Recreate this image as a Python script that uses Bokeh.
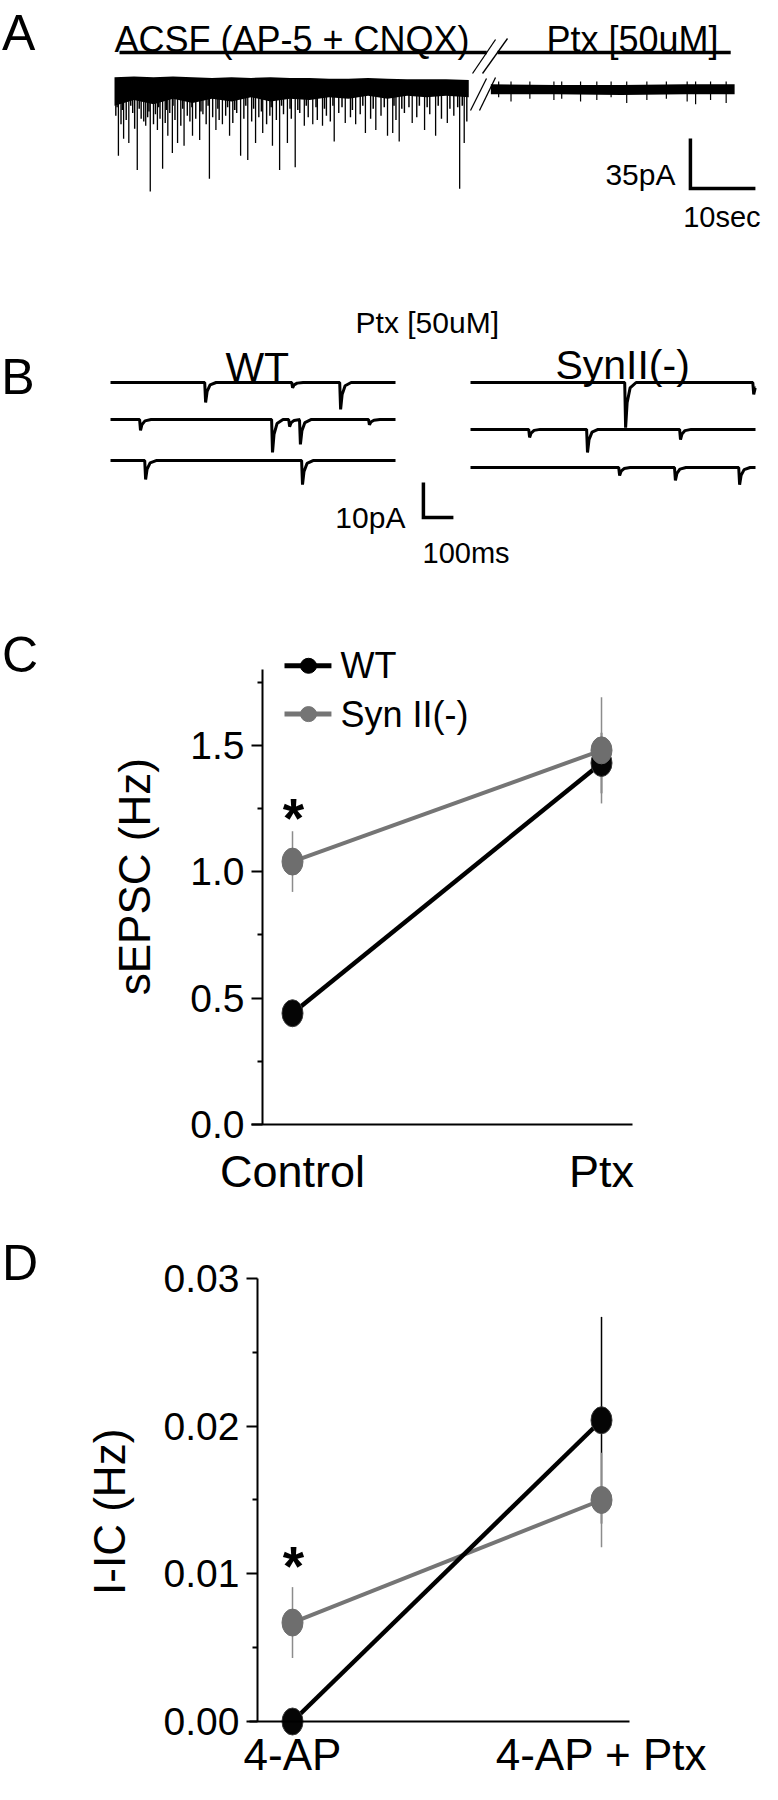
import math
from bokeh.plotting import figure
from bokeh.layouts import column
from bokeh.models import Label, FixedTicker, PrintfTickFormatter
from bokeh.embed import file_html
from bokeh.resources import INLINE

FONT = "Liberation Sans"

# ---------------- Panel A data (seconds, pA) ----------------
acsf_band_t = [0, 3, 6, 9, 12, 15, 18, 21, 24, 27, 30, 33, 36, 39, 42, 45, 48, 51, 54.5]
acsf_band_top = [3, 3.5, 3, 3.5, 3, 2.5, 3, 2.5, 3, 2.5, 2.5, 2, 2, 2.5, 2, 1.5, 1.5, 1.5, 1]
acsf_band_bot = [-17, -13, -16, -12, -15, -12, -14, -11, -14, -12, -13, -11, -12, -10,
                 -12, -10, -11, -10, -11]
acsf_big_t = [0.6, 1.4, 2.2, 3.5, 4.8, 5.5, 6.6, 7.4, 8.2, 8.9, 9.7, 10.7, 12.0, 13.1, 14.6,
              15.6, 16.6, 17.7, 19.4, 20.5, 21.7, 22.8, 24.3, 25.4, 26.6, 27.8, 29.2, 30.5,
              32.0, 33.8, 35.5, 37.1, 38.6, 40.2, 42.0, 42.8, 43.8, 45.8, 47.7, 49.4, 51.2,
              53.1, 53.8]
acsf_big_amp = [52, 40, 43, 62, 31, 77, 34, 61, 38, 50, 43, 45, 38, 41, 68, 34, 30, 38, 52,
                55, 43, 36, 45, 62, 43, 60, 31, 30, 31, 42, 29, 30, 36, 34, 38, 36, 42, 29,
                34, 38, 29, 75, 43]
acsf_med_t = [0.2, 1.0, 1.8, 2.8, 3.1, 4.1, 4.5, 5.1, 6.0, 6.3, 7.0, 7.8, 8.5, 9.3, 10.2,
              11.2, 11.6, 12.5, 13.6, 14.1, 15.1, 16.1, 17.1, 18.2, 18.8, 19.9, 21.1, 22.2,
              23.4, 23.9, 24.9, 26.0, 27.2, 28.5, 29.8, 31.2, 32.6, 33.2, 34.5, 36.3, 37.8,
              39.4, 41.0, 43.3, 44.6, 46.5, 48.5, 50.3, 52.2, 54.2]
acsf_med_amp = [24, 30, 27, 22, 33, 26, 28, 25, 30, 23, 26, 29, 22, 27, 31, 24, 28, 26, 23,
                30, 25, 27, 24, 29, 22, 26, 28, 25, 30, 24, 27, 23, 26, 22, 25, 27, 24, 28,
                22, 25, 23, 26, 24, 27, 22, 25, 23, 26, 24, 28]
acsf_small_t = [0.4, 1.2, 2.5, 3.8, 5.3, 6.8, 8.0, 9.0, 10.5, 11.9, 13.3, 14.4, 15.9, 17.4,
                18.5, 20.2, 21.4, 22.6, 24.1, 25.7, 27.0, 28.2, 29.5, 31.0, 32.3, 33.6,
                35.0, 36.6, 38.2, 39.8, 41.5, 43.0, 44.2, 45.3, 46.9, 48.1, 49.8, 51.6,
                52.8, 53.5]
acsf_small_amp = [18, 20, 17, 19, 21, 18, 20, 17, 19, 18, 21, 17, 19, 18, 20, 17, 19, 21,
                  18, 17, 19, 20, 17, 18, 19, 17, 18, 20, 17, 19, 18, 17, 19, 18, 17, 18,
                  17, 19, 18, 17]
ptx_band_t = [0, 10, 20, 30, 37.5]
ptx_band_top = [-2, -2.5, -2.5, -2, -2]
ptx_band_bot = [-9, -9, -9.5, -9, -9]
ptx_spk_t = [1.2, 3.1, 6.0, 9.7, 10.9, 13.8, 16.3, 18.5, 20.9, 24.0, 27.0, 30.2, 31.5, 33.8, 36.2]
ptx_spk_amp = [11, 14, 12, 13, 12, 14, 13, 11, 15, 13, 12, 14, 16, 13, 15]
bar_acsf = [0.77, 57.27]
bar_ptx = [58.92, 94.8]
scale_a_sec = 10
scale_a_pA = 35

# ---------------- Panel B data (ms, pA) ----------------
trace_dur = 950
wt_events_t = [[317, 607, 767], [100, 540, 597, 633, 863], [117, 640]]
wt_events_amp = [[5.7, 1.5, 7.7], [3.1, 9.4, 2.0, 7.1, 1.5], [5.4, 6.9]]
syn_events_t = [[517, 944], [197, 390, 700], [497, 683, 897]]
syn_events_amp = [[12.9, 3.4], [2.3, 6.6, 2.9], [2.3, 3.7, 4.9]]
scale_b_ms = 100
scale_b_pA = 10

# ---------------- Panel C / D data ----------------
cond_c = ["Control", "Ptx"]
wt_sepsc = [0.44, 1.43]
wt_sepsc_err = [0.03, 0.12]
syn_sepsc = [1.04, 1.48]
syn_sepsc_err = [0.12, 0.21]

cond_d = ["4-AP", "4-AP + Ptx"]
wt_iic = [0.0, 0.0204]
wt_iic_err = [0.0, 0.0070]
syn_iic = [0.0067, 0.0150]
syn_iic_err = [0.0024, 0.0032]

BLACK = "#000000"
GRAY = "#757575"
GRAY_ERR = "#8c8c8c"


def base_fig(h, xr, yr, axes=False):
    kw = dict(width=762, height=h, x_range=xr, y_range=yr, output_backend="svg",
              toolbar_location=None, min_border=0)
    if not axes:
        kw.update(x_axis_type=None, y_axis_type=None)
    p = figure(**kw)
    p.outline_line_color = None
    p.grid.visible = False
    p.background_fill_color = "white"
    p.border_fill_color = "white"
    return p


def label(p, x, y, text, size, align="left", baseline="alphabetic", style="normal",
          color=BLACK, angle=0.0):
    p.add_layout(Label(x=x, y=y, text=text, text_font=FONT, text_font_size=f"{size}px",
                       text_align=align, text_baseline=baseline, text_font_style=style,
                       text_color=color, angle=angle))


# ================= Panel A =================
pa = base_fig(250, (-17.54, 99.69), (-118.3, 56.7))
pa.varea(x=acsf_band_t, y1=acsf_band_top, y2=acsf_band_bot, fill_color=BLACK)
for ts, am, lw in ((acsf_small_t, acsf_small_amp, 1.5), (acsf_med_t, acsf_med_amp, 1.4),
                   (acsf_big_t, acsf_big_amp, 1.3)):
    pa.segment(x0=ts, y0=[-8] * len(ts), x1=ts, y1=[-a for a in am],
               line_color=BLACK, line_width=lw)
PTX0 = 57.9
pt = [PTX0 + t for t in ptx_band_t]
pa.varea(x=pt, y1=ptx_band_top, y2=ptx_band_bot, fill_color=BLACK)
pst = [PTX0 + t for t in ptx_spk_t]
pa.segment(x0=pst, y0=[0] * len(pst), x1=pst, y1=[-a for a in ptx_spk_amp],
           line_color=BLACK, line_width=1.2)
# condition bars
pa.line(x=bar_acsf, y=[20.3, 20.3], line_color=BLACK, line_width=3.5)
pa.line(x=bar_ptx, y=[20.3, 20.3], line_color=BLACK, line_width=3.5)
# break marks
pa.segment(x0=[55.08, 56.62, 54.77, 56.15], y0=[5.6, 5.6, -20.3, -20.3],
           x1=[58.62, 60.46, 57.23, 58.62], y1=[29.4, 30.1, 2.1, 2.8],
           line_color=BLACK, line_width=1.3)
# scale bar
sx, sy = 88.6, -74.9
pa.line(x=[sx, sx, sx + scale_a_sec], y=[sy + scale_a_pA, sy, sy], line_color=BLACK,
        line_width=3.5, line_join="miter")
label(pa, 0, 29.4, "ACSF (AP-5 + CNQX)", 36)
label(pa, 66.46, 29.4, "Ptx [50uM]", 36)
label(pa, 86.3, -65.1, f"{scale_a_pA}pA", 30, align="right")
label(pa, 99.4, -94.5, f"{scale_a_sec}sec", 29, align="right")
label(pa, -17.3, 34.0, "A", 50)


# ================= Panel B =================
def trace_xy(ev_t, ev_a, dur):
    xs, ys = [0], [0]
    for t, a in zip(ev_t, ev_a):
        for dx, f in ((-3, 0), (0, 1), (5, 0.45), (15, 0.12), (35, 0)):
            if t + dx < dur:
                xs.append(t + dx)
                ys.append(-a * f)
    xs.append(dur)
    ys.append(ys[-1])
    return xs, ys


pb = base_fig(340, (-366.7, 2173.3), (-59.43, 37.71))
wt_off = [0, -10.6, -22.3]
syn_off = [0, -13.4, -24.3]
SYN_X0 = 1200
for i in range(3):
    xs, ys = trace_xy(wt_events_t[i], wt_events_amp[i], trace_dur)
    pb.line(x=xs, y=[v + wt_off[i] for v in ys], line_color=BLACK, line_width=3)
    xs, ys = trace_xy(syn_events_t[i], syn_events_amp[i], trace_dur)
    pb.line(x=[SYN_X0 + v for v in xs], y=[v + syn_off[i] for v in ys], line_color=BLACK,
            line_width=3)
bx, by = 1043, -38.6
pb.line(x=[bx, bx, bx + scale_b_ms], y=[by + scale_b_pA, by, by], line_color=BLACK,
        line_width=3.5, line_join="miter")
label(pb, 817, 17.1, "Ptx [50uM]", 30)
label(pb, 383, 4.3, "WT", 41)
label(pb, 1483, 4.9, "SynII(-)", 41)
label(pb, 983, -38.6, f"{scale_b_pA}pA", 30, align="right")
label(pb, 1040, -48.6, f"{scale_b_ms}ms", 29)
label(pb, -364, 1.43, "B", 50)


# ================= Panels C and D =================
def style_axes(p, yloc, ybounds, yticks, yminor, yfmt, xbounds, xlabels, xstand, xsize):
    ya = p.yaxis[0]
    ya.fixed_location = yloc
    ya.bounds = ybounds
    ya.ticker = FixedTicker(ticks=yticks, minor_ticks=yminor)
    ya.formatter = PrintfTickFormatter(format=yfmt)
    ya.major_tick_out = 11
    ya.major_tick_in = 0
    ya.minor_tick_out = 5
    ya.minor_tick_in = 0
    ya.axis_line_width = 2
    ya.major_tick_line_width = 2
    ya.minor_tick_line_width = 2
    ya.major_label_text_font = FONT
    ya.major_label_text_font_size = "39px"
    ya.major_label_text_color = BLACK
    ya.major_label_standoff = 7
    xa = p.xaxis[0]
    xa.fixed_location = 0
    xa.bounds = xbounds
    xa.ticker = FixedTicker(ticks=[0, 1], minor_ticks=[])
    xa.major_label_overrides = {0: xlabels[0], 1: xlabels[1]}
    xa.major_tick_out = 0
    xa.major_tick_in = 0
    xa.minor_tick_out = 0
    xa.minor_tick_in = 0
    xa.axis_line_width = 2
    xa.major_label_text_font = FONT
    xa.major_label_text_font_size = f"{xsize}px"
    xa.major_label_text_color = BLACK
    xa.major_label_standoff = xstand


def draw_series(p, wt, wt_err, syn, syn_err):
    xs = list(range(len(wt)))
    p.segment(x0=xs, y0=[m - e for m, e in zip(wt, wt_err)], x1=xs,
              y1=[m + e for m, e in zip(wt, wt_err)], line_color=BLACK, line_width=1.5)
    p.segment(x0=xs, y0=[m - e for m, e in zip(syn, syn_err)], x1=xs,
              y1=[m + e for m, e in zip(syn, syn_err)], line_color=GRAY_ERR, line_width=1.5)
    p.line(x=xs, y=syn, line_color=GRAY, line_width=4)
    p.line(x=xs, y=wt, line_color=BLACK, line_width=4.5)
    p.ellipse(x=xs, y=wt, width=21, height=27, width_units="screen", height_units="screen",
              fill_color="#050505", line_color="#3a3a3a", line_width=1)
    p.ellipse(x=xs, y=syn, width=21, height=27, width_units="screen", height_units="screen",
              fill_color="#6e6e6e", line_color="#6e6e6e", line_width=1)


XR = (-0.945, 1.521)

pc = base_fig(618, XR, (-0.3323, 2.1123), axes=True)
style_axes(pc, -0.0971, (0, 1.8), [0, 0.5, 1.0, 1.5], [0.25, 0.75, 1.25, 1.75], "%.1f",
           (-0.1327, 1.1003), cond_c, 22, 45)
draw_series(pc, wt_sepsc, wt_sepsc_err, syn_sepsc, syn_sepsc_err)
# legend
leg_y = [1.8145, 1.6233]
leg_col = [BLACK, GRAY]
leg_txt = ["WT", "Syn II(-)"]
for yy, cc, tt in zip(leg_y, leg_col, leg_txt):
    pc.line(x=[-0.0259, 0.126], y=[yy, yy], line_color=cc, line_width=5)
    pc.ellipse(x=[0.0518], y=[yy], width=16, height=15, width_units="screen",
               height_units="screen", fill_color=cc, line_color=cc)
    label(pc, 0.1553, yy, tt, 36, baseline="middle")
label(pc, 0.003, 1.2107, "*", 55, align="center", style="bold")
label(pc, -0.94, 1.8552, "C", 50)
label(pc, -0.511, 0.98, "sEPSC (Hz)", 44, align="center", baseline="middle",
      angle=math.pi / 2)

pd_ = base_fig(576, XR, (-0.004266, 0.034740), axes=True)
style_axes(pd_, -0.1133, (0, 0.03), [0, 0.01, 0.02, 0.03], [0.005, 0.015, 0.025], "%.2f",
           (-0.1392, 1.0906), cond_d, 8, 44)
draw_series(pd_, wt_iic, wt_iic_err, syn_iic, syn_iic_err)
label(pd_, 0.003, 0.0105, "*", 55, align="center", style="bold")
label(pd_, -0.94, 0.031083, "D", 50)
label(pd_, -0.591, 0.0142, "I-IC (Hz)", 44, align="center", baseline="middle",
      angle=math.pi / 2)

layout = column(pa, pb, pc, pd_, spacing=0)
open("out.html", "w").write(file_html(layout, INLINE))
